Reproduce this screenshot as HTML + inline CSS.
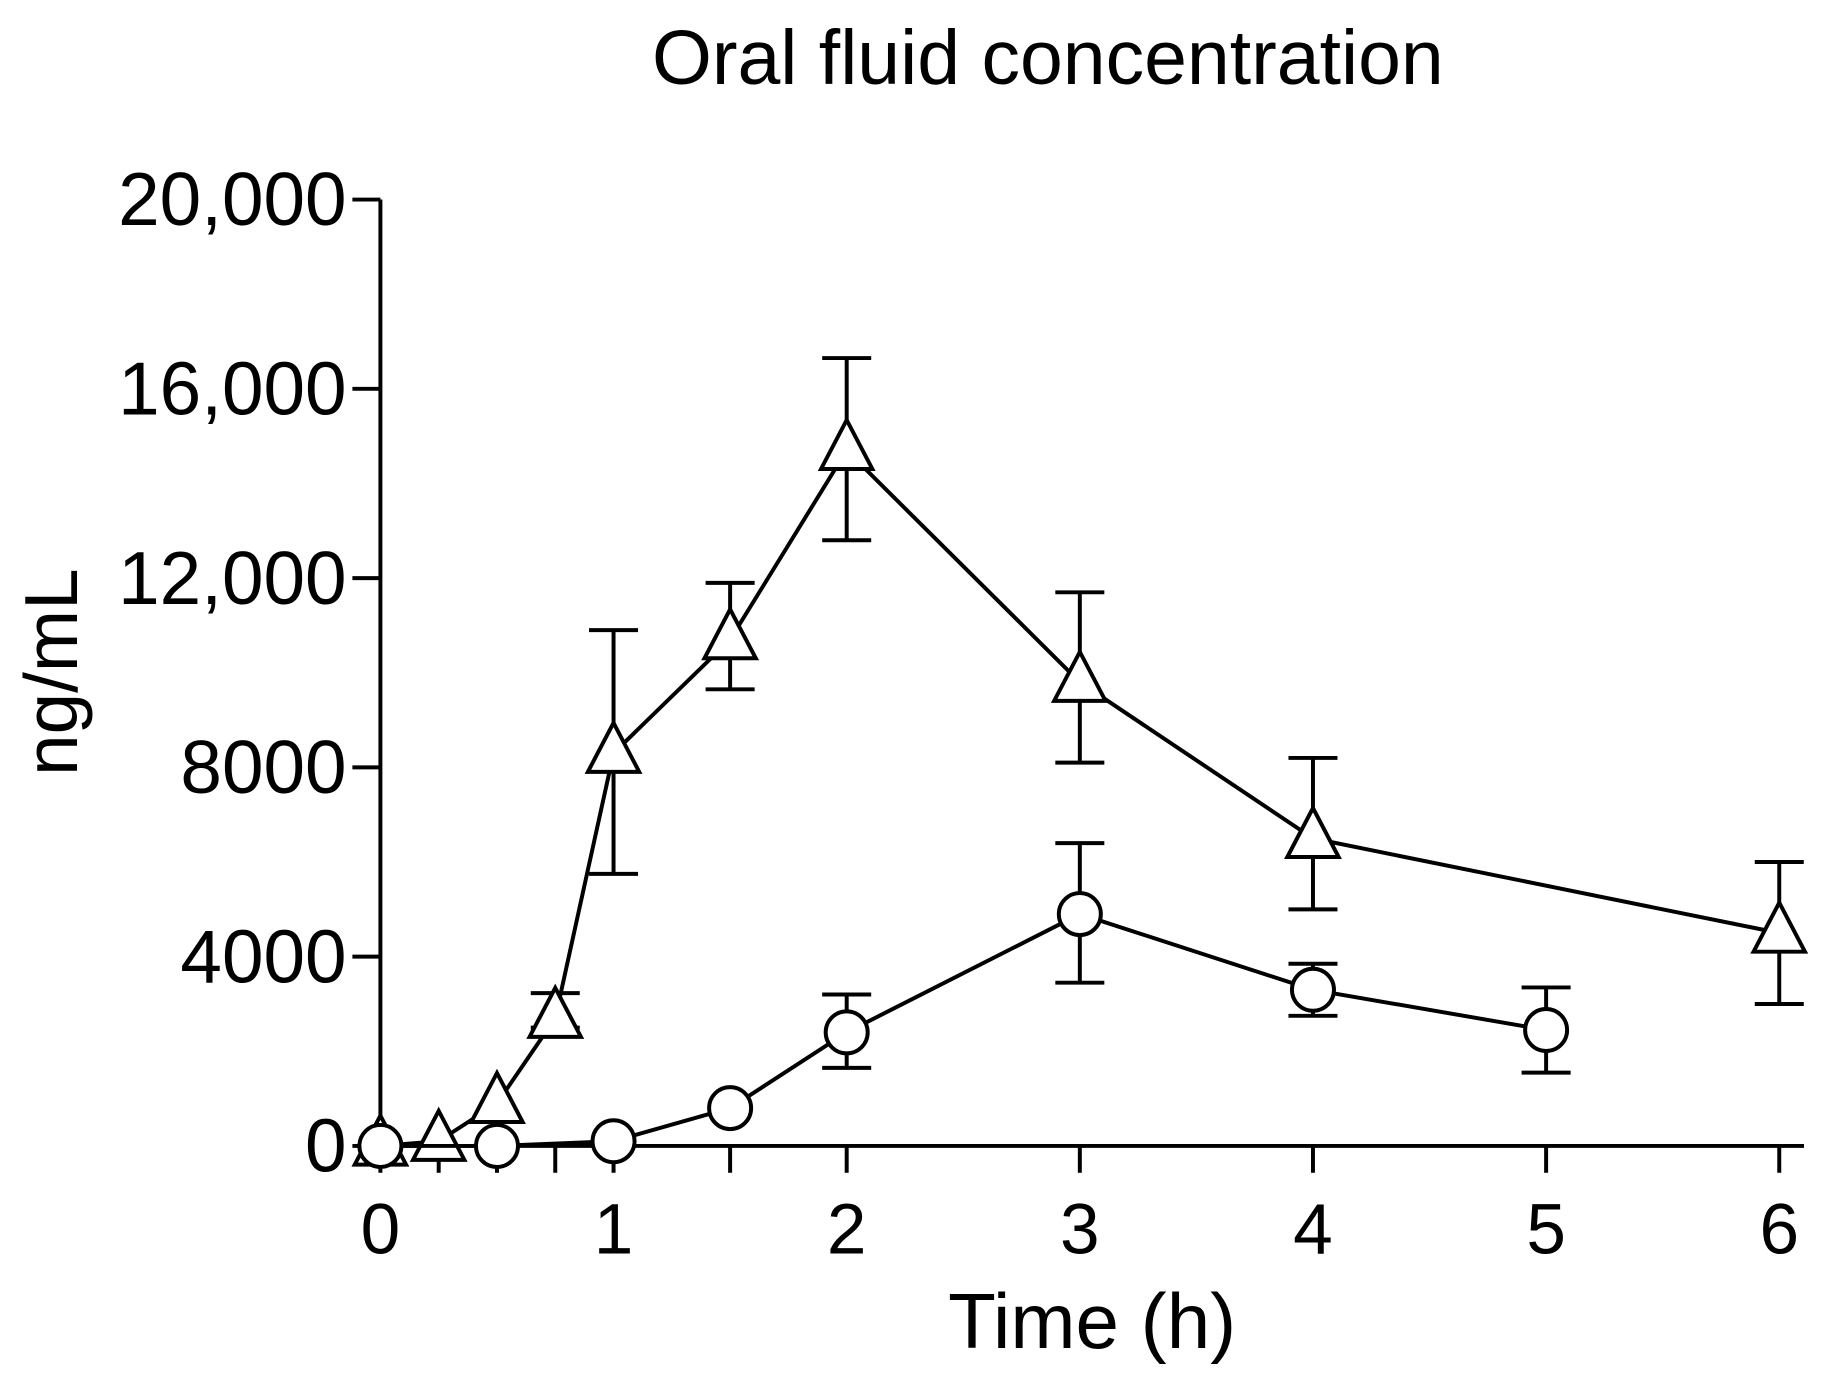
<!DOCTYPE html>
<html><head><meta charset="utf-8"><style>html,body{margin:0;padding:0;background:#fff}svg{display:block}text{font-family:"Liberation Sans",sans-serif;fill:#000}</style></head>
<body>
<svg width="1825" height="1377" viewBox="0 0 1564 1180" preserveAspectRatio="none">
<text x="898" y="72" font-size="66" text-anchor="middle">Oral fluid concentration</text>
<text x="936" y="1155" font-size="67" text-anchor="middle">Time (h)</text>
<text transform="translate(66,576) rotate(-90)" font-size="64" text-anchor="middle">ng/mL</text>
<g id="axes"></g><g id="series"></g>
</svg>
<script>
const xTicks=[0,0.25,0.5,0.75,1,1.5,2,3,4,5,6];
const xLabels=[0,1,2,3,4,5,6];
const yTicks=[0,4000,8000,12000,16000,20000];
const yLabels=["0","4000","8000","12,000","16,000","20,000"];
const triX=[0,0.25,0.5,0.75,1,1.5,2,3,4,6];
const triY=[0,100,900,2700,8300,10700,14700,9800,6500,4500];
const triHi=[0,100,900,3230,10900,11900,16650,11700,8200,6000];
const triLo=[0,100,900,2500,5750,9650,12800,8100,5000,3000];
const cirX=[0,0.5,1,1.5,2,3,4,5];
const cirY=[0,0,100,800,2400,4900,3300,2450];
const cirHi=[0,0,100,800,3200,6400,3850,3350];
const cirLo=[0,0,100,800,1650,3450,2750,1550];
const X=v=>326+v*199.8, Y=v=>982-v*811/20000;
const NS='http://www.w3.org/2000/svg';
function mk(p,t,a){const e=document.createElementNS(NS,t);for(const k in a)e.setAttribute(k,a[k]);p.appendChild(e);return e;}
const ax=document.getElementById('axes'), sr=document.getElementById('series');
const st={stroke:'#000','stroke-width':3.4,fill:'none'};
let l=mk(ax,'line',Object.assign({x1:326,y1:Y(20000),x2:326,y2:982},st));


l=mk(ax,'line',Object.assign({x1:326,y1:982,x2:1546,y2:982},st));


xTicks.forEach(v=>{const t=mk(ax,'line',Object.assign({x1:X(v),y1:982,x2:X(v),y2:1005},st));

});
xLabels.forEach(v=>{const t=mk(ax,'text',{x:X(v),y:1074,'font-size':61,'text-anchor':'middle'});t.textContent=v;

});
yTicks.forEach((v,i)=>{const t=mk(ax,'line',Object.assign({x1:302,y1:Y(v),x2:326,y2:Y(v)},st));


const s=mk(ax,'text',{x:297,y:Y(v)+22,'font-size':64,'text-anchor':'end'});s.textContent=yLabels[i];

});
function series(xs,ys,hi,lo,shape,name){
 const g=mk(sr,'g',{});
 
 
 const pl=mk(g,'polyline',Object.assign({points:xs.map((x,i)=>X(x)+','+Y(ys[i])).join(' ')},st));
 
 
 xs.forEach((x,i)=>{
  if(hi[i]-lo[i]>50){const cx=X(x);
   const e=mk(g,'path',Object.assign({d:`M${cx},${Y(hi[i])}V${Y(lo[i])}M${cx-21},${Y(hi[i])}H${cx+21}M${cx-21},${Y(lo[i])}H${cx+21}`},st));
   
   }
  let m;const cx=X(x),cy=Y(ys[i]);
  if(shape==='tri') m=mk(g,'polygon',{points:`${cx},${cy-26} ${cx-22},${cy+16} ${cx+22},${cy+16}`,fill:'#fff',stroke:'#000','stroke-width':3.4});
  else m=mk(g,'circle',{cx:cx,cy:cy,r:18,fill:'#fff',stroke:'#000','stroke-width':3.4});
  
  
 });
}
series(triX,triY,triHi,triLo,'tri','triangle');
series(cirX,cirY,cirHi,cirLo,'circle','circle');
</script>
</body></html>
